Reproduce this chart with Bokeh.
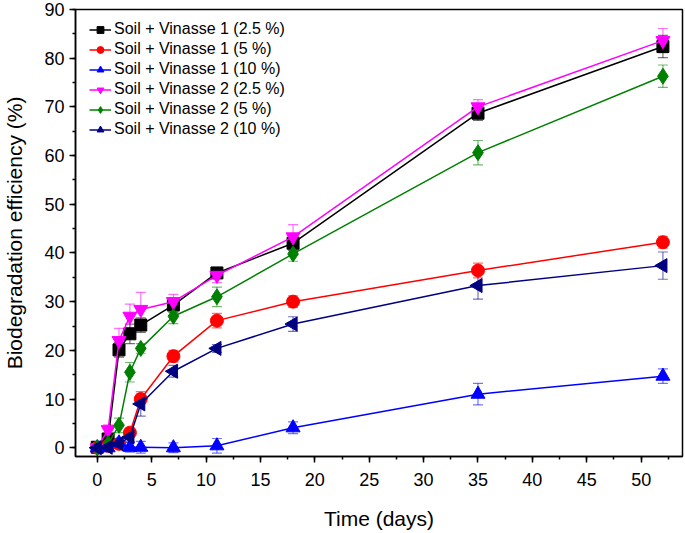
import math
from bokeh.plotting import figure
from bokeh.models import ColumnDataSource, Whisker, TeeHead, Range1d, SingleIntervalTicker
from bokeh.embed import file_html
from bokeh.resources import INLINE

days = [0, 1, 2, 3, 4, 7, 11, 18, 35, 52]

v1_25 = [0.1, 1.8, 20.1, 23.4, 25.2, 29.3, 35.9, 42.0, 68.7, 82.4]
v1_25_err = [0.5, 1.0, 1.5, 2.0, 1.5, 1.5, 1.0, 1.5, 1.5, 2.3]
v1_5 = [0.0, 0.4, 0.8, 3.1, 10.0, 18.8, 26.1, 30.0, 36.4, 42.2]
v1_5_err = [0.5, 0.5, 0.5, 1.0, 1.0, 1.2, 1.5, 1.2, 1.5, 1.2]
v1_10 = [0.0, 0.0, 1.0, 0.1, 0.1, 0.0, 0.4, 4.1, 11.0, 14.7]
v1_10_err = [0.5, 0.5, 0.8, 1.0, 1.2, 1.0, 1.5, 1.2, 2.2, 1.5]
v2_25 = [0.0, 3.7, 22.0, 27.0, 28.4, 30.0, 35.4, 43.3, 70.0, 83.6]
v2_25_err = [0.5, 1.0, 2.5, 2.5, 3.5, 1.5, 1.5, 2.5, 1.5, 2.5]
v2_5 = [0.0, 0.8, 4.6, 15.5, 20.4, 27.0, 31.0, 39.8, 60.6, 76.3]
v2_5_err = [0.5, 0.5, 1.5, 2.0, 1.0, 1.5, 2.0, 1.5, 2.5, 2.3]
v2_10 = [0.0, 0.1, 0.8, 2.2, 9.0, 15.7, 20.4, 25.4, 33.3, 37.4]
v2_10_err = [0.5, 0.5, 0.5, 1.0, 2.5, 1.2, 0.8, 1.5, 2.8, 2.8]

labels = ["Soil + Vinasse 1 (2.5 %)", "Soil + Vinasse 1 (5 %)", "Soil + Vinasse 1 (10 %)",
          "Soil + Vinasse 2 (2.5 %)", "Soil + Vinasse 2 (5 %)", "Soil + Vinasse 2 (10 %)"]
x_title = "Time (days)"
y_title = "Biodegradation efficiency (%)"

FONT = "Liberation Sans"

p = figure(width=684, height=532, output_backend="svg", toolbar_location=None,
           x_range=Range1d(-2, 53.8), y_range=Range1d(-1.8, 90),
           min_border_left=74, min_border_right=2, min_border_top=9, min_border_bottom=76)
p.xgrid.visible = False
p.ygrid.visible = False
p.outline_line_color = "black"
p.outline_line_width = 1.5

p.xaxis.ticker = SingleIntervalTicker(interval=5, num_minor_ticks=2)
p.yaxis.ticker = SingleIntervalTicker(interval=10, num_minor_ticks=2)
for ax in (p.xaxis, p.yaxis):
    ax.axis_line_width = 1.5
    ax.major_tick_line_width = 1.5
    ax.minor_tick_line_width = 1.5
    ax.major_tick_out = 6
    ax.major_tick_in = 0
    ax.minor_tick_out = 3
    ax.minor_tick_in = 0
    ax.major_label_text_font = FONT
    ax.major_label_text_font_size = "18px"
    ax.major_label_text_color = "black"
    ax.axis_label_text_font = FONT
    ax.axis_label_text_font_size = "21px"
    ax.axis_label_text_font_style = "normal"
    ax.axis_label_text_color = "black"
p.xaxis.axis_label = x_title
p.yaxis.axis_label = y_title
p.xaxis.major_label_standoff = 10
p.yaxis.major_label_standoff = 5
p.xaxis.axis_label_standoff = 18
p.yaxis.axis_label_standoff = 15

series = [
    (v1_25, v1_25_err, "black", "square", 0, 12),
    (v1_5, v1_5_err, "red", "circle", 0, 13),
    (v1_10, v1_10_err, "blue", "triangle", 0, 14),
    (v2_25, v2_25_err, "magenta", "inverted_triangle", 0, 14),
    (v2_5, v2_5_err, "green", "diamond", 0, 16),
    (v2_10, v2_10_err, "navy", "triangle", math.pi / 2, 14),
]

for (vals, errs, color, marker, ang, size), lab in zip(series, labels):
    src = ColumnDataSource(dict(x=days, y=vals,
                                upper=[v + e for v, e in zip(vals, errs)],
                                lower=[v - e for v, e in zip(vals, errs)]))
    w = Whisker(source=src, base="x", upper="upper", lower="lower",
                line_color=color, line_alpha=0.55, line_width=1.2,
                upper_head=TeeHead(size=10, line_color=color, line_alpha=0.55, line_width=1.2),
                lower_head=TeeHead(size=10, line_color=color, line_alpha=0.55, line_width=1.2))
    p.add_layout(w)
    p.line("x", "y", source=src, line_color=color, line_width=1.5, legend_label=lab)
    p.scatter("x", "y", source=src, marker=marker, angle=ang, size=size,
              fill_color=color, line_color=color, legend_label=lab)

lg = p.legend[0]
lg.location = (14, 318)
lg.margin = 0
lg.padding = 6
lg.border_line_color = None
lg.background_fill_alpha = 0
lg.label_text_font = FONT
lg.label_text_font_size = "16px"
lg.label_text_color = "black"
lg.glyph_width = 22
lg.glyph_height = 17
lg.label_height = 17
lg.spacing = 2
lg.label_standoff = 3

open("out.html", "w").write(file_html(p, INLINE))
